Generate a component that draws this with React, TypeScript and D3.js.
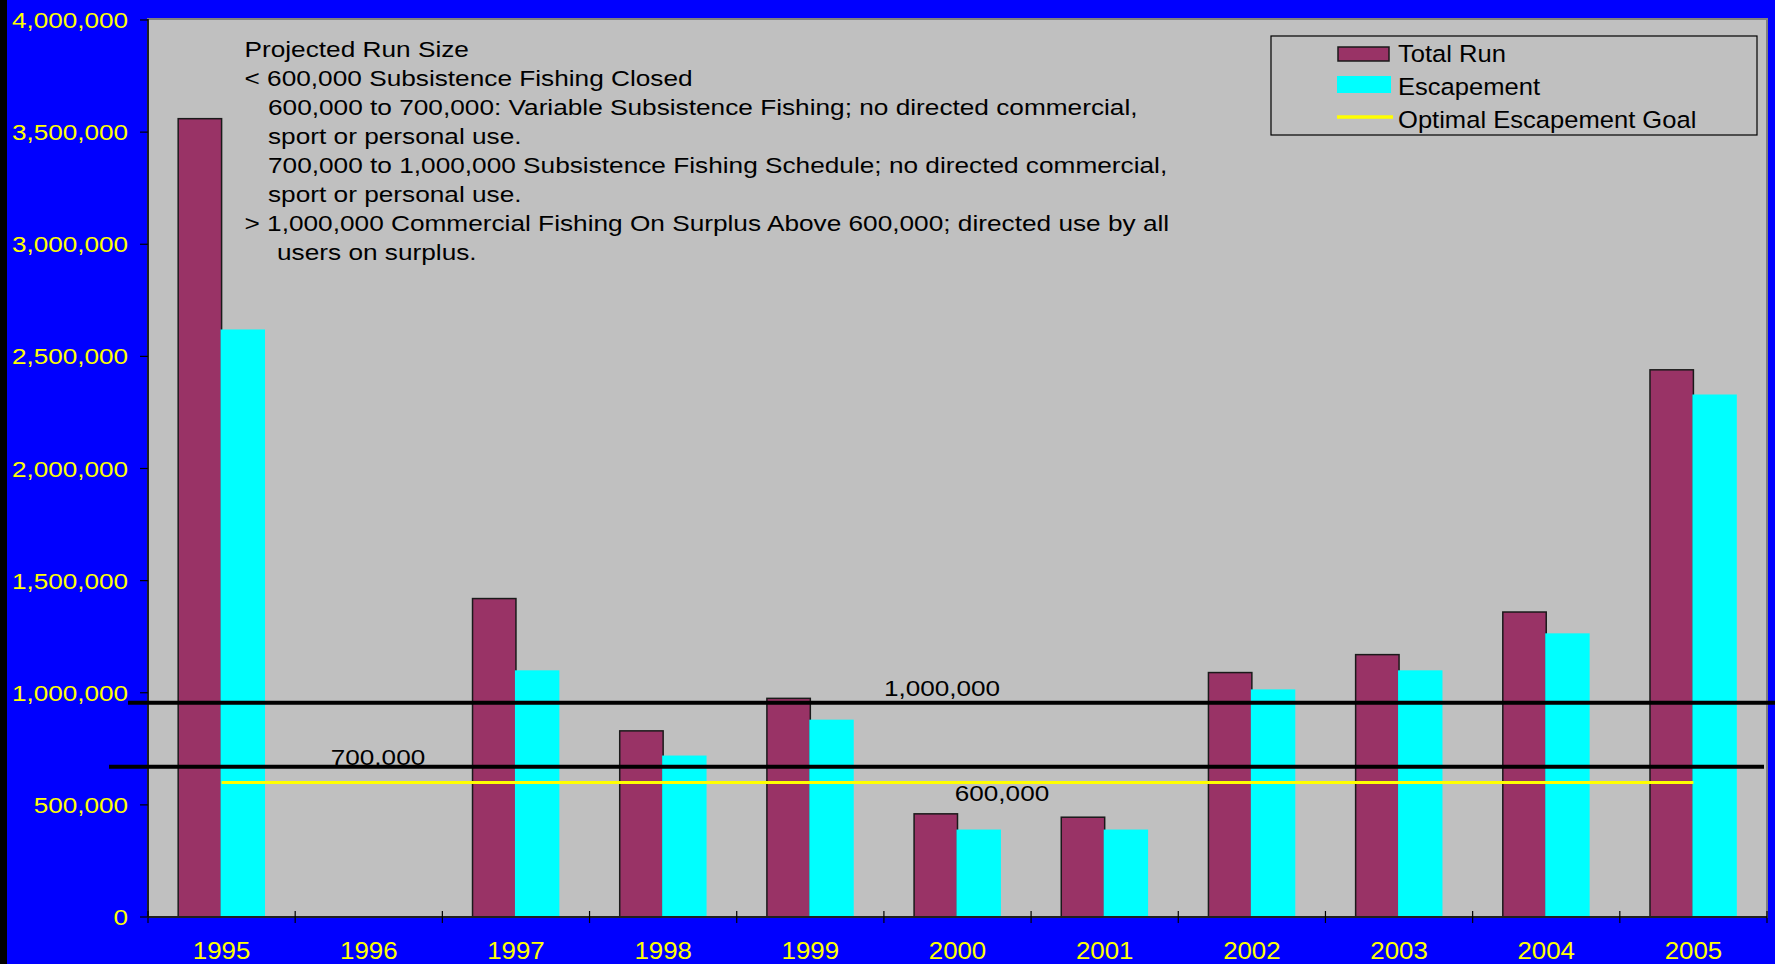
import React from "react";
import * as d3 from "d3";

const years = ["1995", "1996", "1997", "1998", "1999", "2000", "2001", "2002", "2003", "2004", "2005"];
const totalRun: (number | null)[] = [3560000, null, 1420000, 830000, 975000, 460000, 445000, 1090000, 1170000, 1360000, 2440000];
const escapement: (number | null)[] = [2620000, null, 1100000, 720000, 880000, 390000, 390000, 1015000, 1100000, 1265000, 2330000];
const optimalGoal = [600000, 600000, 600000, 600000, 600000, 600000, 600000, 600000, 600000, 600000, 600000];
const yTicks = [0, 500000, 1000000, 1500000, 2000000, 2500000, 3000000, 3500000, 4000000];
const annotationLines = [
  { text: "Projected Run Size", indent: 0 },
  { text: "< 600,000 Subsistence Fishing Closed", indent: 0 },
  { text: "600,000 to 700,000: Variable Subsistence Fishing; no directed commercial,", indent: 23.5 },
  { text: "sport or personal use.", indent: 23.5 },
  { text: "700,000 to 1,000,000 Subsistence Fishing Schedule; no directed commercial,", indent: 23.5 },
  { text: "sport or personal use.", indent: 23.5 },
  { text: "> 1,000,000 Commercial Fishing On Surplus Above 600,000; directed use by all", indent: 0 },
  { text: "users on surplus.", indent: 32.5 },
];
// drawn threshold lines (positions)
const thresholdLines = [
  { value: 955000, x0: -20, x1: 8 },
  { value: 670000, x0: -39, x1: -3 },
];
const thresholdLabels = [
  { text: "1,000,000", value: 1000000, cx: 942, dy: 3 },
  { text: "700,000", value: 700000, cx: 378, dy: 5 },
  { text: "600,000", value: 600000, cx: 1002, dy: 19 },
];
const legendItems = ["Total Run", "Escapement", "Optimal Escapement Goal"];

const W = 1775;
const H = 964;
const M = { left: 148, right: 1767, top: 20, bottom: 917 };
const FONT = "Liberation Sans, Arial, sans-serif";

const C_TOTAL = "#993366";
const C_ESC = "#00FFFF";
const C_GOAL = "#FFFF00";

function T(props: { x: number; y: number; anchor?: string; size: number; sx: number; fill: string; children: any }) {
  return (
    <text
      transform={`translate(${props.x},${props.y}) scale(${props.sx},1)`}
      textAnchor={props.anchor || "start"}
      fontSize={props.size}
      fill={props.fill}
      fontFamily={FONT}
    >
      {props.children}
    </text>
  );
}

export default function App() {
  const x = d3.scaleBand<string>().domain(years).range([M.left, M.right]).paddingInner(0.41).paddingOuter(0.205);
  const sub = d3.scaleBand<string>().domain(["total", "esc"]).range([0, x.bandwidth()]);
  const y = d3.scaleLinear().domain([0, 4000000]).range([M.bottom, M.top]);
  const step = x.step();

  const goalLine = d3
    .line<number>()
    .x((_, i) => (x(years[i]) as number) + x.bandwidth() / 2)
    .y((d) => y(d));

  return (
    <div style={{ position: "fixed", left: 0, top: 0 }}>
      <svg width={W} height={H} style={{ display: "block" }}>
        <rect x={0} y={0} width={W} height={H} fill="#0000FF" />
        <rect x={0} y={0} width={7} height={H} fill="#000000" />
        <rect x={M.left} y={M.top - 1} width={M.right - M.left} height={M.bottom - M.top + 1} fill="#C0C0C0" stroke="#808080" strokeWidth={2} />

        {/* y axis */}
        <line x1={M.left} x2={M.left} y1={M.top - 1} y2={M.bottom} stroke="#000" strokeWidth={1.5} />
        {yTicks.map((t) => (
          <g key={t}>
            <line x1={M.left - 8} x2={M.left} y1={y(t)} y2={y(t)} stroke="#000" strokeWidth={1.2} />
            <T x={128} y={y(t) + 8} anchor="end" size={22.5} sx={1.16} fill="#FFFF00">
              {d3.format(",")(t)}
            </T>
          </g>
        ))}

        {/* bars */}
        {years.map((yr, i) => (
          <g key={yr}>
            {totalRun[i] != null && (
              <rect
                x={(x(yr) as number) + (sub("total") as number)}
                y={y(totalRun[i] as number)}
                width={sub.bandwidth()}
                height={M.bottom - y(totalRun[i] as number)}
                fill={C_TOTAL}
                stroke="#1a1a1a"
                strokeWidth={1.5}
              />
            )}
            {escapement[i] != null && (
              <rect
                x={(x(yr) as number) + (sub("esc") as number) - 1}
                y={y(escapement[i] as number)}
                width={sub.bandwidth() + 1}
                height={M.bottom - y(escapement[i] as number)}
                fill={C_ESC}
              />
            )}
          </g>
        ))}

        {/* x axis */}
        <line x1={M.left} x2={M.right} y1={M.bottom} y2={M.bottom} stroke="#202020" strokeWidth={2} />
        {d3.range(years.length + 1).map((k) => (
          <line key={k} x1={M.left + k * step} x2={M.left + k * step} y1={M.bottom - 6} y2={M.bottom + 6} stroke="#000" strokeWidth={1.2} />
        ))}
        {years.map((yr) => (
          <T key={yr} x={(x(yr) as number) + x.bandwidth() / 2} y={959} anchor="middle" size={23.5} sx={1.1} fill="#FFFF00">
            {yr}
          </T>
        ))}

        {/* goal line */}
        <path d={goalLine(optimalGoal) as string} fill="none" stroke={C_GOAL} strokeWidth={3} />

        {/* threshold lines */}
        {thresholdLines.map((l, i) => (
          <line key={i} x1={M.left + l.x0} x2={M.right + l.x1} y1={y(l.value)} y2={y(l.value)} stroke="#000" strokeWidth={4} />
        ))}
        {thresholdLabels.map((l, i) => (
          <T key={i} x={l.cx} y={y(l.value) + l.dy} anchor="middle" size={22.5} sx={1.16} fill="#000">
            {l.text}
          </T>
        ))}

        {/* annotation */}
        {annotationLines.map((l, i) => (
          <T key={i} x={244.5 + l.indent} y={57 + 29 * i} size={21.5} sx={1.22} fill="#000">
            {l.text}
          </T>
        ))}

        {/* legend */}
        <rect x={1271} y={36} width={486} height={99} fill="none" stroke="#000" strokeWidth={1.2} />
        <rect x={1338} y={47} width={51} height={14} fill={C_TOTAL} stroke="#1a1a1a" strokeWidth={1.5} />
        <rect x={1337} y={76} width={54} height={17} fill={C_ESC} />
        <line x1={1337} x2={1393} y1={117} y2={117} stroke={C_GOAL} strokeWidth={3.5} />
        {legendItems.map((s, i) => (
          <T key={s} x={1398} y={[62, 95, 128][i]} size={23.5} sx={1.088} fill="#000">
            {s}
          </T>
        ))}
      </svg>
    </div>
  );
}
